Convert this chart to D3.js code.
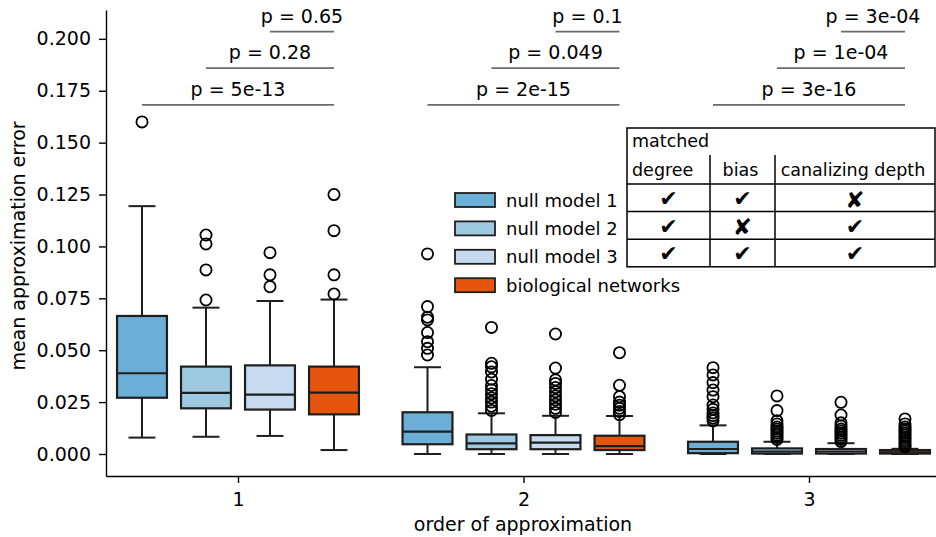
<!DOCTYPE html>
<html>
<head>
<meta charset="utf-8">
<script src="https://cdn.jsdelivr.net/npm/d3@7"></script>
<style>
  body { margin: 0; background: #fff; }
  text { font-family: 'DejaVu Sans', sans-serif; fill: #000; }
</style>
</head>
<body>
<div id="chart"></div>
<script>
let orders = ['1', '2', '3']
let models = ['null model 1', 'null model 2', 'null model 3', 'biological networks']
let colors = ['#6baed6', '#9ecae1', '#c6dbef', '#e6550d']

// box stats, one row per model, one column per order
let whiskLow = [
  [0.0079, 0.0, 0.0],
  [0.0083, 0.0, 0.0],
  [0.0087, 0.0, 0.0],
  [0.0019, 0.0, 0.0]
]
let q1 = [
  [0.0271, 0.0047, 0.0004],
  [0.0220, 0.0023, 0.0002],
  [0.0214, 0.0023, 0.0002],
  [0.0191, 0.0019, 0.0002]
]
let medians = [
  [0.0389, 0.0108, 0.0024],
  [0.0294, 0.0051, 0.0012],
  [0.0286, 0.0055, 0.0012],
  [0.0296, 0.0038, 0.0008]
]
let q3 = [
  [0.0665, 0.0201, 0.0059],
  [0.0421, 0.0094, 0.0027],
  [0.0427, 0.0091, 0.0024],
  [0.0421, 0.0088, 0.0019]
]
let whiskHigh = [
  [0.1194, 0.0418, 0.0138],
  [0.0705, 0.0196, 0.0059],
  [0.0737, 0.0184, 0.0052],
  [0.0744, 0.0183, 0.0025]
]
let outliers = [
  [[0.160],
   [0.0964, 0.0710, 0.0659, 0.0646, 0.0585, 0.0541, 0.0509, 0.0477],
   [0.0416, 0.0381, 0.0344, 0.0308, 0.0276, 0.0236, 0.0215, 0.0198, 0.0185, 0.0173, 0.0160]],
  [[0.1055, 0.1012, 0.0887, 0.0742],
   [0.0610, 0.0437, 0.0420, 0.0395, 0.0360, 0.0330, 0.0310, 0.0290, 0.0270, 0.0250, 0.0230, 0.0210],
   [0.0280, 0.0209, 0.0160, 0.0145, 0.0130, 0.0120, 0.0110, 0.0100, 0.0090, 0.0080, 0.0070]],
  [[0.0970, 0.0863, 0.0806],
   [0.0578, 0.0414, 0.0357, 0.0340, 0.0320, 0.0300, 0.0280, 0.0260, 0.0240, 0.0220, 0.0200],
   [0.0249, 0.0188, 0.0150, 0.0135, 0.0120, 0.0110, 0.0100, 0.0090, 0.0080, 0.0070, 0.0060]],
  [[0.1250, 0.1076, 0.0863, 0.0771],
   [0.0488, 0.0331, 0.0276, 0.0250, 0.0235, 0.0220, 0.0205, 0.0190],
   [0.0169, 0.0145, 0.0130, 0.0120, 0.0110, 0.0100, 0.0090, 0.0080, 0.0070, 0.0060, 0.0050, 0.0040, 0.0035]]
]

// p values: null model 1/2/3 vs biological networks, per order
let pLabels = [
  ['5e-13', '0.28', '0.65'],
  ['2e-15', '0.049', '0.1'],
  ['3e-16', '1e-04', '3e-04']
]
let pLevels = [0.1682, 0.1859, 0.2035]

let tableCols = ['degree', 'bias', 'canalizing depth']
let tableMarks = [
  ['\u2714', '\u2714', '\u2718'],
  ['\u2714', '\u2718', '\u2714'],
  ['\u2714', '\u2714', '\u2714']
]

let width = 936,
  height = 537,
  fontSize = 19,
  legendSize = 18,
  tableSize = 17.5

let svg = d3.select('#chart').append('svg')
  .attr('width', width)
  .attr('height', height)

// scales
let x = d3.scaleLinear()
  .domain([-0.4623, 2.4448])
  .range([106, 936])

let y = d3.scaleLinear()
  .domain([-0.0106, 0.2139])
  .range([476, 10])

let hue = d3.scaleBand()
  .domain(models)
  .range([-128, 128])

let boxW = hue.bandwidth() * 0.78,
  capW = boxW * 0.54

function cx(m, o) {
  return x(o) + hue(models[m]) + hue.bandwidth() / 2
}

// axes
svg.append('g')
  .attr('transform', 'translate(' + x.range()[0] + ',0)')
  .call(d3.axisLeft(y)
    .tickValues(d3.range(0, 0.2001, 0.025))
    .tickFormat(d3.format('.3f'))
    .tickSize(7)
    .tickPadding(8)
    .tickSizeOuter(0))

svg.append('g')
  .attr('transform', 'translate(0,' + y.range()[0] + ')')
  .call(d3.axisBottom(x)
    .tickValues([0, 1, 2])
    .tickFormat(function (d) { return orders[d] })
    .tickSize(7)
    .tickPadding(10)
    .tickSizeOuter(0))

svg.selectAll('.tick text')
  .attr('font-size', fontSize)
  .attr('font-family', 'DejaVu Sans')
svg.selectAll('.domain, .tick line')
  .attr('stroke', '#000')
  .attr('stroke-width', 1.4)

svg.append('text')
  .attr('transform', 'translate(25,246) rotate(-90)')
  .attr('text-anchor', 'middle')
  .attr('font-size', fontSize)
  .text('mean approximation error')

svg.append('text')
  .attr('x', 523)
  .attr('y', 531)
  .attr('text-anchor', 'middle')
  .attr('font-size', fontSize)
  .text('order of approximation')

// boxes
let boxes = []
models.forEach(function (m, i) {
  orders.forEach(function (o, j) {
    boxes.push({m: i, o: j, lo: whiskLow[i][j], q1: q1[i][j], med: medians[i][j],
      q3: q3[i][j], hi: whiskHigh[i][j], out: outliers[i][j]})
  })
})

let boxG = svg.append('g').selectAll('.box')
  .data(boxes)
  .enter().append('g')
  .attr('class', 'box')
  .attr('transform', function (d) {
    return 'translate(' + cx(d.m, d.o) + ',0)'
  })

let edge = '#1e1e1e'

boxG.append('line')
  .attr('y1', function (d) { return y(d.lo) })
  .attr('y2', function (d) { return y(d.q1) })
  .attr('stroke', edge)
  .attr('stroke-width', 2)

boxG.append('line')
  .attr('y1', function (d) { return y(d.q3) })
  .attr('y2', function (d) { return y(d.hi) })
  .attr('stroke', edge)
  .attr('stroke-width', 2)

boxG.selectAll('.cap')
  .data(function (d) { return [d.lo, d.hi] })
  .enter().append('line')
  .attr('x1', -capW / 2)
  .attr('x2', capW / 2)
  .attr('y1', function (d) { return y(d) })
  .attr('y2', function (d) { return y(d) })
  .attr('stroke', edge)
  .attr('stroke-width', 2)

boxG.append('rect')
  .attr('x', -boxW / 2)
  .attr('width', boxW)
  .attr('y', function (d) { return y(d.q3) })
  .attr('height', function (d) { return y(d.q1) - y(d.q3) })
  .attr('fill', function (d) { return colors[d.m] })
  .attr('stroke', edge)
  .attr('stroke-width', 2.2)

boxG.append('line')
  .attr('x1', -boxW / 2)
  .attr('x2', boxW / 2)
  .attr('y1', function (d) { return y(d.med) })
  .attr('y2', function (d) { return y(d.med) })
  .attr('stroke', edge)
  .attr('stroke-width', 2.2)

boxG.selectAll('.flier')
  .data(function (d) { return d.out })
  .enter().append('circle')
  .attr('class', 'flier')
  .attr('cx', 0)
  .attr('cy', function (d) { return y(d) })
  .attr('r', 5.6)
  .attr('fill', 'none')
  .attr('stroke', '#000')
  .attr('stroke-width', 1.8)

// significance annotations
let annots = []
orders.forEach(function (o, j) {
  pLevels.forEach(function (lev, k) {
    annots.push({o: j, m: k, level: lev, label: 'p = ' + pLabels[j][k]})
  })
})

let annG = svg.append('g').selectAll('.annot')
  .data(annots)
  .enter().append('g')

annG.append('line')
  .attr('x1', function (d) { return cx(d.m, d.o) })
  .attr('x2', function (d) { return cx(3, d.o) })
  .attr('y1', function (d) { return y(d.level) })
  .attr('y2', function (d) { return y(d.level) })
  .attr('stroke', '#6a6a6a')
  .attr('stroke-width', 1.6)

annG.append('text')
  .attr('x', function (d) { return (cx(d.m, d.o) + cx(3, d.o)) / 2 })
  .attr('y', function (d) { return y(d.level) - 9 })
  .attr('text-anchor', 'middle')
  .attr('font-size', fontSize)
  .text(function (d) { return d.label })

// legend
let legend = svg.append('g')
  .attr('transform', 'translate(455,193)')

let legRow = legend.selectAll('.leg')
  .data(models)
  .enter().append('g')
  .attr('transform', function (d, i) { return 'translate(0,' + (i * 28.4) + ')' })

legRow.append('rect')
  .attr('width', 40)
  .attr('height', 14)
  .attr('fill', function (d, i) { return colors[i] })
  .attr('stroke', edge)
  .attr('stroke-width', 1.8)

legRow.append('text')
  .attr('x', 51)
  .attr('y', 13.5)
  .attr('font-size', legendSize)
  .text(function (d) { return d })

// matched-properties table
let tLeft = 627, tRight = 935, tTop = 128, tHead = 184,
  rowH = 27.6, colX = [627, 710, 775, 935]
let tBottom = tHead + rowH * tableMarks.length

let table = svg.append('g')

table.append('rect')
  .attr('x', tLeft)
  .attr('y', tTop)
  .attr('width', tRight - tLeft)
  .attr('height', tBottom - tTop)
  .attr('fill', '#fff')
  .attr('stroke', '#000')
  .attr('stroke-width', 1.5)

table.selectAll('.hline')
  .data(d3.range(tableMarks.length))
  .enter().append('line')
  .attr('x1', tLeft)
  .attr('x2', tRight)
  .attr('y1', function (d) { return tHead + d * rowH })
  .attr('y2', function (d) { return tHead + d * rowH })
  .attr('stroke', '#000')
  .attr('stroke-width', 1.5)

table.selectAll('.vline')
  .data(colX.slice(1, 3))
  .enter().append('line')
  .attr('x1', function (d) { return d })
  .attr('x2', function (d) { return d })
  .attr('y1', 155)
  .attr('y2', tBottom)
  .attr('stroke', '#000')
  .attr('stroke-width', 1.5)

table.append('text')
  .attr('x', 632)
  .attr('y', 147)
  .attr('font-size', tableSize)
  .text('matched')

table.selectAll('.colhead')
  .data(tableCols)
  .enter().append('text')
  .attr('x', function (d, i) { return i === 0 ? colX[0] + 5 : (colX[i] + colX[i + 1]) / 2 - 2 })
  .attr('y', 176)
  .attr('text-anchor', function (d, i) { return i === 0 ? 'start' : 'middle' })
  .attr('font-size', tableSize)
  .text(function (d) { return d })

tableMarks.forEach(function (row, r) {
  table.selectAll('.mark' + r)
    .data(row)
    .enter().append('text')
    .attr('x', function (d, i) { return (colX[i] + colX[i + 1]) / 2 })
    .attr('y', function (d) { return tHead + r * rowH + (d === '\u2718' ? 23.5 : 22) })
    .attr('text-anchor', 'middle')
    .attr('font-size', function (d) { return d === '\u2718' ? 23 : 22 })
    .attr('font-style', function (d) { return d === '\u2718' ? 'italic' : 'normal' })
    .text(function (d) { return d })
})
</script>
</body>
</html>
